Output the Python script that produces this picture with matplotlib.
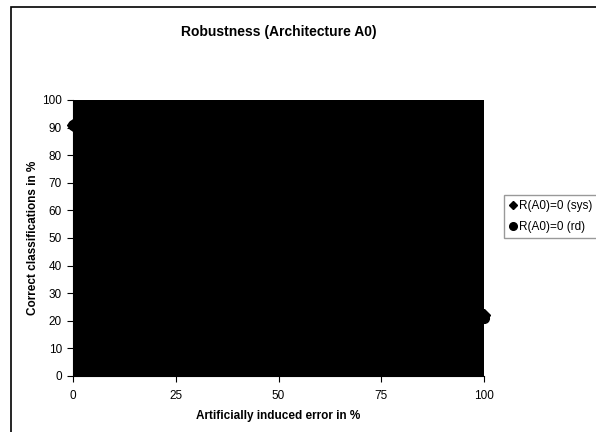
import matplotlib
matplotlib.use("Agg")
import matplotlib.pyplot as plt
from matplotlib.patches import Rectangle
from matplotlib.lines import Line2D

plt.rcParams['font.family'] = ['Liberation Sans', 'DejaVu Sans']

# Data (visible points; interior of the plot area is solid black)
x_sys = [0, 100]
y_sys = [91, 22]
x_rd = [0, 100]
y_rd = [91, 21]
xticks = [0, 25, 50, 75, 100]
yticks = list(range(0, 101, 10))
title = "Robustness (Architecture A0)"
xlabel = "Artificially induced error in %"
ylabel = "Correct classifications in %"
labels = ["R(A0)=0 (sys)", "R(A0)=0 (rd)"]

W, H = 596, 432
fig = plt.figure(figsize=(W / 100, H / 100), dpi=100)
fig.patch.set_facecolor('white')

# chart area border (cut off on right and bottom)
fig.patches.append(Rectangle((11 / W, -0.1), 1.2, 1 - 7 / H + 0.1, transform=fig.transFigure,
                             fill=False, edgecolor='black', linewidth=1.2))

x0, x1, yt, yb = 73, 484, 100, 376
ax = fig.add_axes([x0 / W, 1 - yb / H, (x1 - x0) / W, (yb - yt) / H])
ax.set_facecolor('black')
ax.set_xlim(0, 100)
ax.set_ylim(0, 100)
ax.set_xticks(xticks)
ax.set_yticks(yticks)
ax.tick_params(axis='both', labelsize=8.5, length=4, width=0.8, direction='out', color='black')
ax.tick_params(axis='x', pad=6)
ax.tick_params(axis='y', pad=4)
for s in ['top', 'right']:
    ax.spines[s].set_visible(False)
for s in ['left', 'bottom']:
    ax.spines[s].set_color('black')
    ax.spines[s].set_linewidth(0.8)

ax.plot(x_sys, y_sys, linestyle='none', marker='D', markersize=6, color='black', clip_on=False)
ax.plot(x_rd, y_rd, linestyle='none', marker='o', markersize=7, color='black', clip_on=False)

ax.set_xlabel(xlabel, fontsize=8.5, fontweight='bold', labelpad=6)
ax.set_ylabel(ylabel, fontsize=8.5, fontweight='bold', labelpad=2)
fig.text((x0 + x1) / 2 / W, 1 - 32 / H, title, ha='center', va='center', fontsize=10, fontweight='bold')

handles = [Line2D([], [], linestyle='none', marker='D', markersize=4.5, color='black'),
           Line2D([], [], linestyle='none', marker='o', markersize=5.5, color='black')]
leg = fig.legend(handles, labels, loc='upper left', bbox_to_anchor=(504 / W, 1 - 195 / H),
                 fontsize=8.5, frameon=True, fancybox=False, borderpad=0.45, handlelength=0.6,
                 handletextpad=0.25, labelspacing=0.75, borderaxespad=0)
leg.get_frame().set_edgecolor('#808080')
leg.get_frame().set_linewidth(1.0)

fig.savefig('out.png', dpi=100)
